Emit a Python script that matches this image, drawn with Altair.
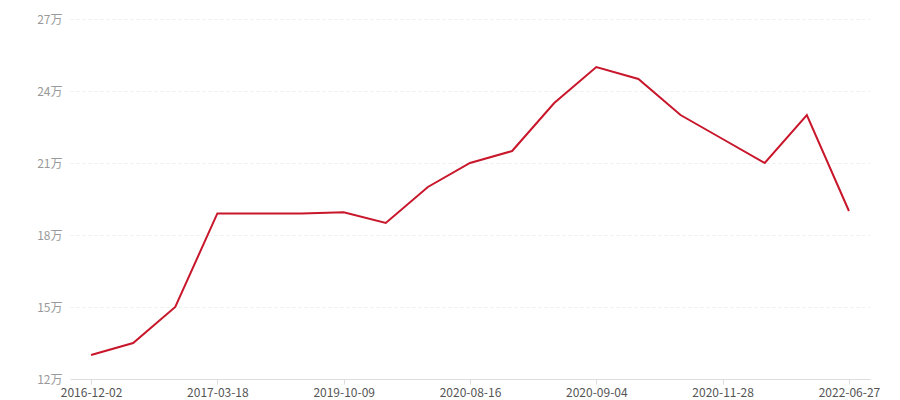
import altair as alt
import pandas as pd

dates = [
    "2016-12-02", "2016-12-20", "2017-01-25",
    "2017-03-18", "2017-09-10", "2018-06-15",
    "2019-10-09", "2019-12-20", "2020-03-15",
    "2020-08-16", "2020-08-22", "2020-08-29",
    "2020-09-04", "2020-09-30", "2020-10-25",
    "2020-11-28", "2021-05-10", "2021-12-01",
    "2022-06-27",
]
values = [
    130000, 135000, 150000,
    189000, 189000, 189000,
    189500, 185000, 200000,
    210000, 215000, 235000,
    250000, 245000, 230000,
    220000, 210000, 230000,
    190000,
]
tick_labels = ["2016-12-02", "2017-03-18", "2019-10-09", "2020-08-16",
               "2020-09-04", "2020-11-28", "2022-06-27"]
y_ticks = [120000, 150000, 180000, 210000, 240000, 270000]

df = pd.DataFrame({"date": dates, "value": values})

font = "Noto Sans CJK SC"

chart = alt.Chart(df).mark_line(color="#c8162b", strokeWidth=2).encode(
    x=alt.X("date:N", sort=dates,
            scale=alt.Scale(type="point", padding=0.5),
            axis=alt.Axis(values=tick_labels, labelAngle=0, title=None,
                          domainColor="#dddddd", tickColor="#dddddd", tickSize=5,
                          labelColor="#555555", labelFontSize=12, labelFont=font,
                          labelPadding=3, grid=False)),
    y=alt.Y("value:Q", scale=alt.Scale(domain=[120000, 270000], nice=False, zero=False),
            axis=alt.Axis(values=y_ticks, title=None, domain=False, ticks=False,
                          labelExpr="datum.value / 10000 + '万'",
                          labelColor="#999999", labelFontSize=12, labelFont=font,
                          labelPadding=8, gridColor="#eeeeee", gridDash=[3, 3],
                          gridWidth=1)),
).properties(
    width=800, height=360,
    autosize=alt.AutoSizeParams(type="none"),
    padding={"left": 62, "top": 11, "right": 22, "bottom": 25},
).configure_view(stroke=None)

chart.save("out.html", embed_options={"renderer": "svg", "actions": False})
